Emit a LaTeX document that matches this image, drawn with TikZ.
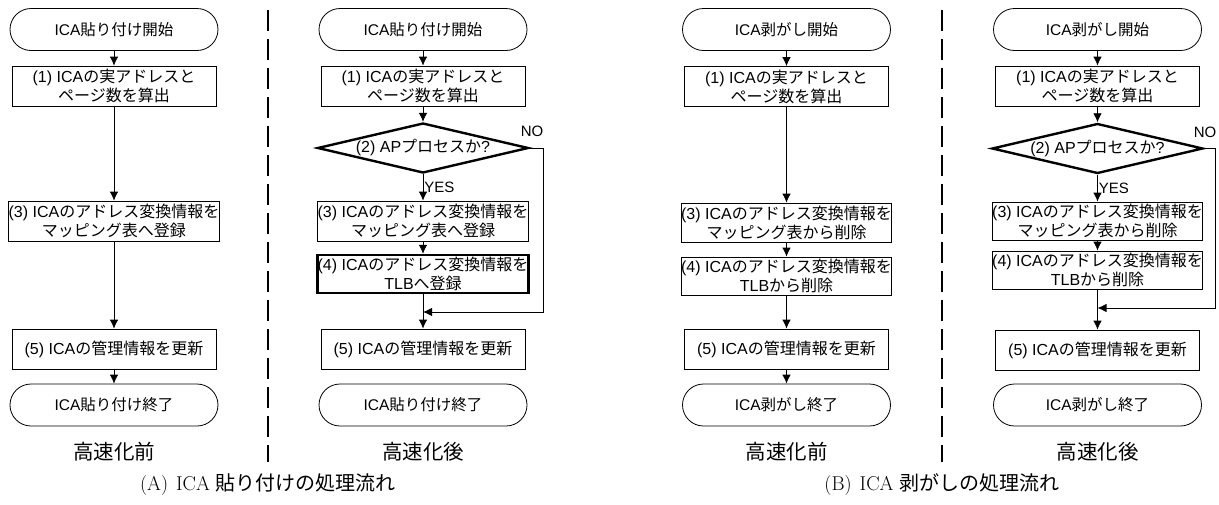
\documentclass[tikz,border=0pt]{standalone}
\usepackage{fontspec}
\newfontfamily\ar{Liberation Sans}
\newfontfamily\cjk{Noto Sans CJK JP}
\usetikzlibrary{shapes.geometric,arrows.meta}
\newcommand\J[1]{{\cjk #1}}
\tikzset{
  term/.style={draw, line width=0.8pt, rounded corners=21pt, minimum width=208pt, minimum height=42pt, inner sep=0pt, font=\ar\fontsize{15.5}{17}\selectfont},
  proc/.style={draw, line width=0.8pt, minimum width=204pt, minimum height=40pt, inner sep=0pt, align=center, font=\ar\fontsize{16}{19}\selectfont},
  bold proc/.style={proc, line width=2.4pt},
  dec/.style={diamond, draw, line width=2.4pt, minimum width=211pt, minimum height=50pt, inner sep=0pt, shape aspect=4.2, font=\ar\fontsize{16}{18}\selectfont},
  arr/.style={-{Latex[length=9pt,width=8.5pt]}, line width=0.8pt},
  lbl/.style={inner sep=0pt, font=\ar\fontsize{15}{17}\selectfont},
  sepline/.style={line width=2.5pt, dash pattern=on 21pt off 8pt},
  ttl/.style={inner sep=0pt, font=\cjk\fontsize{20.5}{22}\selectfont},
  captxt/.style={inner sep=0pt, font=\fontsize{20}{22}\selectfont}
}
\begin{document}
\begin{tikzpicture}[x=1pt,y=-1pt]
\useasboundingbox (0,0) rectangle (1219,504);
% ---------- column 1 : A before ----------
\node[term] (a1s) at (114,29.5) {ICA\J{貼り付け開始}};
\node[proc] (a1p1) at (114,86) {(1) ICA\J{の実アドレスと}\\\J{ページ数を算出}};
\node[proc] (a1p3) at (114,221) {(3) ICA\J{のアドレス変換情報を}\\\J{マッピング表へ登録}};
\node[proc] (a1p5) at (114,349) {(5) ICA\J{の管理情報を更新}};
\node[term] (a1e) at (114,405) {ICA\J{貼り付け終了}};
\node[ttl] (a1t) at (114,452) {高速化前};
\draw[arr] (a1s) -- (a1p1);
\draw[arr] (a1p1) -- (a1p3);
\draw[arr] (a1p3) -- (a1p5);
\draw[arr] (a1p5) -- (a1e);
% separator A
\draw[sepline] (268,10) -- (268,462);
% ---------- column 2 : A after ----------
\node[term] (a2s) at (423,29.5) {ICA\J{貼り付け開始}};
\node[proc] (a2p1) at (423,86) {(1) ICA\J{の実アドレスと}\\\J{ページ数を算出}};
\node[dec] (a2d) at (423,148) {(2) AP\J{プロセスか}?};
\node[proc] (a2p3) at (423,221) {(3) ICA\J{のアドレス変換情報を}\\\J{マッピング表へ登録}};
\node[bold proc, minimum height=38pt] (a2p4) at (423,274) {(4) ICA\J{のアドレス変換情報を}\\TLB\J{へ登録}};
\node[proc] (a2p5) at (423,349) {(5) ICA\J{の管理情報を更新}};
\node[term] (a2e) at (423,405) {ICA\J{貼り付け終了}};
\node[ttl] (a2t) at (423,452) {高速化後};
\coordinate (a2k) at (543,312);
\coordinate (a2m) at (423,312);
\draw[arr] (a2s) -- (a2p1);
\draw[arr] (a2p1) -- (a2d);
\draw[arr] (a2d) -- node[lbl, anchor=west, xshift=1pt] {YES} (a2p3);
\draw[arr] (a2p3) -- (a2p4);
\draw[arr] (a2p4) -- (a2p5);
\draw[arr] (a2d.east) -- (a2d.east -| a2k) -- (a2k) -- (a2m);
\node[lbl] (a2no) at (532,131) {NO};
% caption A
\node[captxt] (capA) at (268,485) {(A)\hspace{8pt}ICA\hspace{6pt}\J{貼り付けの処理流れ}};
% ---------- column 3 : B before ----------
\node[term] (b1s) at (786.5,29.5) {ICA\J{剥がし開始}};
\node[proc] (b1p1) at (786.5,86.5) {(1) ICA\J{の実アドレスと}\\\J{ページ数を算出}};
\node[proc, minimum height=39pt] (b1p3) at (786.5,222.5) {(3) ICA\J{のアドレス変換情報を}\\\J{マッピング表から削除}};
\node[proc, minimum height=38pt] (b1p4) at (786.5,276) {(4) ICA\J{のアドレス変換情報を}\\TLB\J{から削除}};
\node[proc] (b1p5) at (786.5,349) {(5) ICA\J{の管理情報を更新}};
\node[term] (b1e) at (786.5,405) {ICA\J{剥がし終了}};
\node[ttl] (b1t) at (786.5,452) {高速化前};
\draw[arr] (b1s) -- (b1p1);
\draw[arr] (b1p1) -- (b1p3);
\draw[arr] (b1p3) -- (b1p4);
\draw[arr] (b1p4) -- (b1p5);
\draw[arr] (b1p5) -- (b1e);
% separator B
\draw[sepline] (942,10) -- (942,462);
% ---------- column 4 : B after ----------
\node[term] (b2s) at (1097.5,29.5) {ICA\J{剥がし開始}};
\node[proc] (b2p1) at (1097.5,86) {(1) ICA\J{の実アドレスと}\\\J{ページ数を算出}};
\node[dec] (b2d) at (1097.5,148.5) {(2) AP\J{プロセスか}?};
\node[proc, minimum height=38pt] (b2p3) at (1097.5,221) {(3) ICA\J{のアドレス変換情報を}\\\J{マッピング表から削除}};
\node[proc, minimum height=38pt] (b2p4) at (1097.5,270) {(4) ICA\J{のアドレス変換情報を}\\TLB\J{から削除}};
\node[proc] (b2p5) at (1097.5,350) {(5) ICA\J{の管理情報を更新}};
\node[term] (b2e) at (1097.5,405) {ICA\J{剥がし終了}};
\node[ttl] (b2t) at (1097.5,452) {高速化後};
\coordinate (b2k) at (1215,308);
\coordinate (b2m) at (1097.5,308);
\draw[arr] (b2s) -- (b2p1);
\draw[arr] (b2p1) -- (b2d);
\draw[arr] (b2d) -- node[lbl, anchor=west, xshift=1pt] {YES} (b2p3);
\draw[arr] (b2p3) -- (b2p4);
\draw[arr] (b2p4) -- (b2p5);
\draw[arr] (b2d.east) -- (b2d.east -| b2k) -- (b2k) -- (b2m);
\node[lbl] (b2no) at (1205,132) {NO};
% caption B
\node[captxt] (capB) at (942,485) {(B)\hspace{8pt}ICA\hspace{6pt}\J{剥がしの処理流れ}};
\end{tikzpicture}
\end{document}
